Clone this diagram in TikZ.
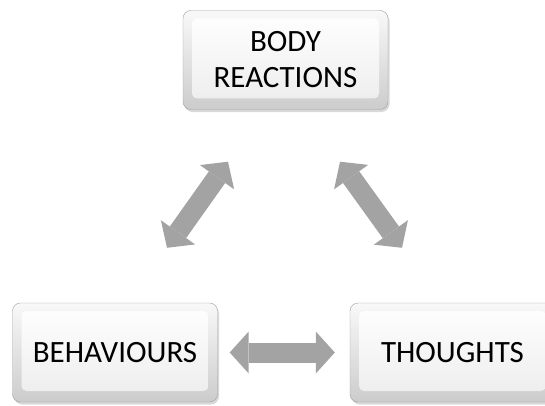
\documentclass[tikz,border=0pt]{standalone}
\usepackage{fontspec}
\setmainfont{Carlito}
\usetikzlibrary{arrows.meta,shadows}

\tikzset{
  keybox/.style={draw=gray!75, rounded corners=8pt, minimum width=205pt, minimum height=99pt,
    top color=gray!5, bottom color=gray!40, align=center, text=black,
    font=\fontsize{31}{36}\selectfont,
    drop shadow={shadow xshift=1.5pt, shadow yshift=-2.5pt, opacity=.3},
    path picture={\shade[top color=white, bottom color=gray!15, rounded corners=5pt]
      ([shift={(9pt,-8pt)}]path picture bounding box.north west) rectangle
      ([shift={(-9pt,11pt)}]path picture bounding box.south east);}},
  bigarrow/.style={line width=20pt, draw=gray!72,
    {Triangle[length=19pt, width=42pt, line width=0pt]}-{Triangle[length=19pt, width=42pt, line width=0pt]}}
}

\begin{document}
\begin{tikzpicture}[x=1pt,y=1pt]
  \useasboundingbox (0,0) rectangle (545,405);

  \node[keybox] (body) at (285.5,345) {BODY\\REACTIONS};
  \node[keybox] (beh) at (115,52.5) {BEHAVIOURS};
  \node[keybox] (tho) at (452.5,52.5) {THOUGHTS};

  % ends of the slanted arrows
  \coordinate (bl1) at ([xshift=52pt,yshift=55pt]beh.north);
  \coordinate (bl2) at ([xshift=-57.5pt,yshift=-52pt]body.south);
  \coordinate (br1) at ([xshift=54.5pt,yshift=-52pt]body.south);
  \coordinate (br2) at ([xshift=-50.5pt,yshift=55pt]tho.north);

  \draw[bigarrow] (bl1) -- (bl2);
  \draw[bigarrow] (br1) -- (br2);
  \draw[bigarrow, shorten <=12pt, shorten >=15pt] (beh.east) -- (tho.west);
\end{tikzpicture}
\end{document}
